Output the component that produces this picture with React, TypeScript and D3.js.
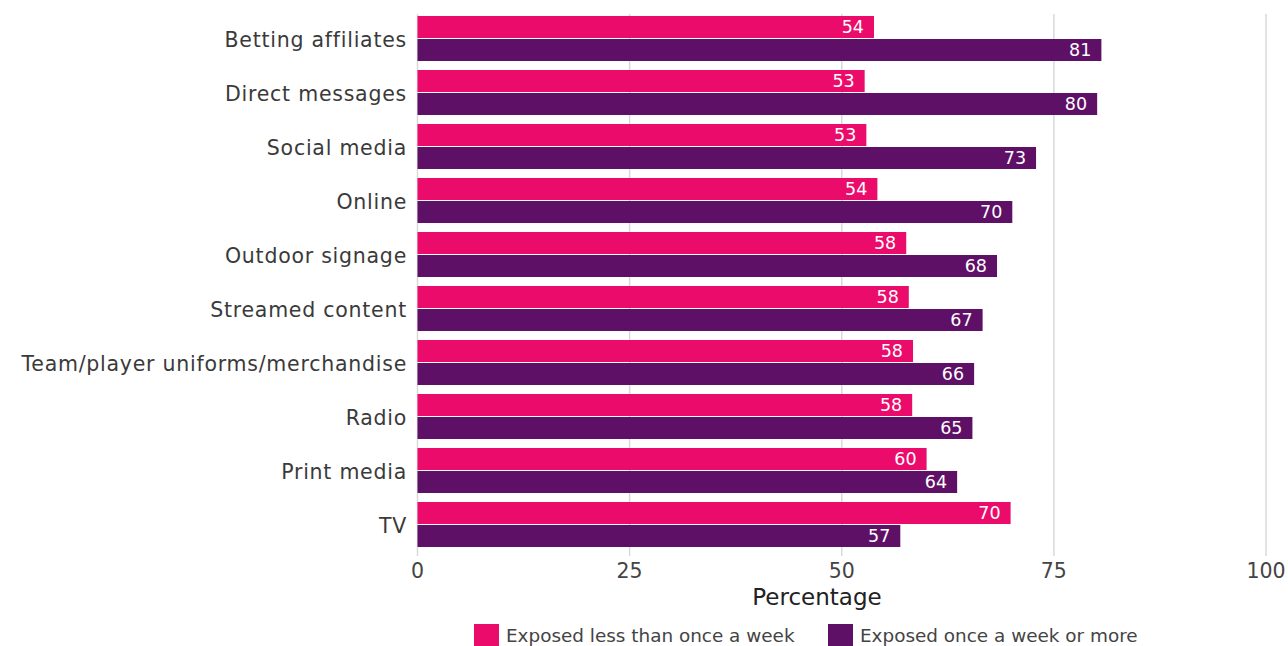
import React from "react";
import * as d3 from "d3";

const categories = [
  "Betting affiliates",
  "Direct messages",
  "Social media",
  "Online",
  "Outdoor signage",
  "Streamed content",
  "Team/player uniforms/merchandise",
  "Radio",
  "Print media",
  "TV",
];
const lessThanWeekly = [53.8, 52.7, 52.9, 54.2, 57.6, 57.9, 58.4, 58.3, 60.0, 69.9];
const weeklyOrMore = [80.6, 80.1, 72.9, 70.1, 68.3, 66.6, 65.6, 65.4, 63.6, 56.9];
const seriesNames = ["Exposed less than once a week", "Exposed once a week or more"];
const xTicks = [0, 25, 50, 75, 100];

const COLORS = ["#eb0b6b", "#5e1066"];
const FONT = "'DejaVu Sans', 'Open Sans', sans-serif";

export default function App() {
  const W = 1288;
  const H = 646;
  const x = d3.scaleLinear().domain([0, 100]).range([417.5, 1266]);
  const y = d3
    .scaleBand<string>()
    .domain(categories)
    .range([11.5, 551.5])
    .paddingInner(1 / 6)
    .paddingOuter(1 / 12);
  const inner = d3
    .scaleBand<number>()
    .domain([0, 1])
    .range([0, y.bandwidth()])
    .paddingInner(1 / 23);
  const series = [lessThanWeekly, weeklyOrMore];
  const fmt = d3.format(".0f");

  return (
    <svg
      width={W}
      height={H}
      style={{ position: "absolute", left: 0, top: 0, display: "block" }}
      fontFamily={FONT}
    >
      <rect width={W} height={H} fill="#fff" />
      {xTicks.map((t) => (
        <line
          key={t}
          x1={x(t)}
          x2={x(t)}
          y1={14}
          y2={556}
          stroke="#d9d9d9"
          strokeWidth={1.5}
        />
      ))}
      {categories.map((c, i) => (
        <g key={c} transform={`translate(0,${y(c)})`}>
          {series.map((s, k) => {
            const v = s[i];
            const by = inner(k)!;
            const bh = inner.bandwidth();
            return (
              <g key={k}>
                <rect
                  x={x(0)}
                  y={by}
                  width={x(v) - x(0)}
                  height={bh}
                  fill={COLORS[k]}
                />
                <text
                  x={x(v) - 10}
                  y={by + bh / 2}
                  dy="0.33em"
                  textAnchor="end"
                  fill="#fff"
                  fontSize={17.5}
                >
                  {fmt(v)}
                </text>
              </g>
            );
          })}
          <text
            x={407}
            y={y.bandwidth() / 2}
            dy="0.42em"
            textAnchor="end"
            fill="#3a3a3a"
            fontSize={20.5}
            letterSpacing={0.75}
          >
            {c}
          </text>
        </g>
      ))}
      {xTicks.map((t) => (
        <text
          key={t}
          x={x(t)}
          y={578}
          textAnchor="middle"
          fill="#444"
          fontSize={20.5}
        >
          {t}
        </text>
      ))}
      <text
        x={817}
        y={605}
        textAnchor="middle"
        fill="#222"
        fontSize={23}
      >
        Percentage
      </text>
      {seriesNames.map((n, k) => {
        const lx = [474, 828][k];
        return (
          <g key={n}>
            <rect x={lx} y={624} width={25} height={24} fill={COLORS[k]} />
            <text x={lx + 32} y={642} fill="#444" fontSize={18.4}>
              {n}
            </text>
          </g>
        );
      })}
    </svg>
  );
}
